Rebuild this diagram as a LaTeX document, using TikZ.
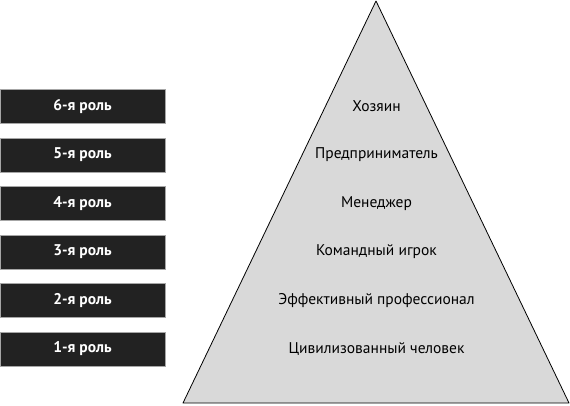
\documentclass[tikz,border=0pt]{standalone}
\usepackage{fontspec}
\setmainfont{PT Sans}
\usetikzlibrary{positioning}
\definecolor{roledark}{RGB}{34,34,34}
\definecolor{pyrgray}{RGB}{217,217,217}

\tikzset{
  rolebox/.style={draw=gray!70, fill=roledark, text=white, font=\bfseries\fontsize{15.5}{18}\selectfont,
    minimum width=165pt, minimum height=34pt, inner sep=0pt, line width=0.6pt},
  levellabel/.style={text=black, font=\fontsize{15.5}{18}\selectfont, inner sep=1pt}
}

\begin{document}
\begin{tikzpicture}[x=1pt, y=-1pt]

\useasboundingbox (0,0) rectangle (570,406);

% pyramid
\coordinate (apex) at (376,1);
\coordinate (baseL) at (183,403);
\coordinate (baseR) at (569,403);
\draw[fill=pyrgray, line width=0.8pt, line join=round] (apex)--(baseR)--(baseL)--cycle;

% roles
\node[rolebox] (role6) at (82.5,106.5) {6-я роль};
\node[rolebox] (role5) at (82.5,155) {5-я роль};
\node[rolebox] (role4) at (82.5,203.5) {4-я роль};
\node[rolebox] (role3) at (82.5,252) {3-я роль};
\node[rolebox] (role2) at (82.5,300.5) {2-я роль};
\node[rolebox] (role1) at (82.5,349) {1-я роль};

% levels
\node[levellabel] (level6) at (376.5,106.5) {Хозяин};
\node[levellabel] (level5) at (376.5,155) {Предприниматель};
\node[levellabel] (level4) at (376.5,203.5) {Менеджер};
\node[levellabel] (level3) at (376.5,252) {Командный игрок};
\node[levellabel] (level2) at (376.5,300.5) {Эффективный профессионал};
\node[levellabel] (level1) at (376.5,349) {Цивилизованный человек};

\end{tikzpicture}
\end{document}
